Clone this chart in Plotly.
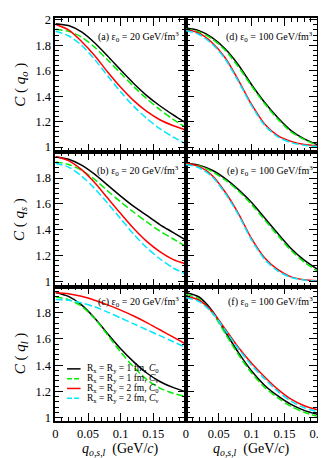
import plotly.graph_objects as go
from plotly.subplots import make_subplots

# momentum grid (GeV/c)
q = [0.0, 0.02, 0.04, 0.06, 0.08, 0.10, 0.12, 0.14, 0.16, 0.18, 0.20]

# (a) C(q_o), eps0 = 20 GeV/fm^3
a_r1_c0 = [1.97, 1.955, 1.905, 1.82, 1.715, 1.605, 1.50, 1.405, 1.325, 1.255, 1.19]
a_r1_cv = [1.925, 1.91, 1.865, 1.785, 1.685, 1.58, 1.475, 1.38, 1.295, 1.22, 1.155]
a_r2_c0 = [1.965, 1.92, 1.83, 1.72, 1.59, 1.47, 1.365, 1.28, 1.215, 1.17, 1.135]
a_r2_cv = [1.91, 1.875, 1.80, 1.69, 1.56, 1.435, 1.32, 1.225, 1.145, 1.08, 1.025]

# (b) C(q_s), eps0 = 20 GeV/fm^3
b_r1_c0 = [1.965, 1.945, 1.90, 1.83, 1.745, 1.66, 1.58, 1.51, 1.44, 1.38, 1.32]
b_r1_cv = [1.925, 1.905, 1.86, 1.79, 1.70, 1.615, 1.535, 1.46, 1.39, 1.33, 1.27]
b_r2_c0 = [1.965, 1.935, 1.865, 1.765, 1.645, 1.525, 1.41, 1.31, 1.23, 1.17, 1.135]
b_r2_cv = [1.915, 1.885, 1.815, 1.72, 1.605, 1.485, 1.365, 1.26, 1.175, 1.105, 1.055]

# (c) C(q_l), eps0 = 20 GeV/fm^3
c_r1_c0 = [1.955, 1.925, 1.86, 1.76, 1.64, 1.525, 1.425, 1.34, 1.275, 1.23, 1.195]
c_r1_cv = [1.92, 1.90, 1.85, 1.755, 1.63, 1.50, 1.385, 1.29, 1.225, 1.185, 1.16]
c_r2_c0 = [1.955, 1.945, 1.925, 1.895, 1.86, 1.82, 1.775, 1.725, 1.67, 1.615, 1.56]
c_r2_cv = [1.90, 1.895, 1.875, 1.845, 1.805, 1.76, 1.715, 1.67, 1.625, 1.58, 1.535]

# (d) C(q_o), eps0 = 100 GeV/fm^3
d_r1_c0 = [1.935, 1.915, 1.86, 1.77, 1.645, 1.49, 1.35, 1.23, 1.13, 1.065, 1.02]
d_r1_cv = [1.925, 1.905, 1.85, 1.76, 1.63, 1.48, 1.34, 1.22, 1.12, 1.06, 1.015]
d_r2_c0 = [1.925, 1.895, 1.82, 1.70, 1.525, 1.335, 1.18, 1.09, 1.045, 1.02, 1.01]
d_r2_cv = [1.915, 1.885, 1.81, 1.69, 1.515, 1.325, 1.17, 1.08, 1.035, 1.015, 1.005]

# (e) C(q_s), eps0 = 100 GeV/fm^3
e_r1_c0 = [1.915, 1.90, 1.86, 1.795, 1.71, 1.61, 1.49, 1.37, 1.255, 1.165, 1.095]
e_r1_cv = [1.91, 1.895, 1.85, 1.785, 1.70, 1.595, 1.475, 1.355, 1.24, 1.15, 1.08]
e_r2_c0 = [1.915, 1.89, 1.82, 1.69, 1.525, 1.33, 1.18, 1.09, 1.035, 1.012, 1.005]
e_r2_cv = [1.905, 1.88, 1.81, 1.68, 1.515, 1.32, 1.17, 1.08, 1.03, 1.01, 1.0]

# (f) C(q_l), eps0 = 100 GeV/fm^3
f_r1_c0 = [1.955, 1.92, 1.815, 1.655, 1.495, 1.355, 1.245, 1.165, 1.10, 1.055, 1.025]
f_r1_cv = [1.94, 1.905, 1.80, 1.64, 1.48, 1.34, 1.23, 1.15, 1.085, 1.04, 1.01]
f_r2_c0 = [1.925, 1.895, 1.81, 1.675, 1.535, 1.415, 1.31, 1.215, 1.14, 1.09, 1.06]
f_r2_cv = [1.915, 1.885, 1.80, 1.665, 1.525, 1.40, 1.295, 1.20, 1.125, 1.075, 1.045]

panel_tags = ["(a)", "(d)", "(b)", "(e)", "(c)", "(f)"]
panel_eps = ["20", "100", "20", "100", "20", "100"]
ysubs = ["o", "s", "l"]
legend_labels = [
    "R<sub>x</sub> = R<sub>y</sub> = 1 fm, <i>C</i><sub>0</sub>",
    "R<sub>x</sub> = R<sub>y</sub> = 1 fm, <i>C</i><sub>v</sub>",
    "R<sub>x</sub> = R<sub>y</sub> = 2 fm, <i>C</i><sub>0</sub>",
    "R<sub>x</sub> = R<sub>y</sub> = 2 fm, <i>C</i><sub>v</sub>",
]

panels = [
    [a_r1_c0, a_r1_cv, a_r2_c0, a_r2_cv],
    [d_r1_c0, d_r1_cv, d_r2_c0, d_r2_cv],
    [b_r1_c0, b_r1_cv, b_r2_c0, b_r2_cv],
    [e_r1_c0, e_r1_cv, e_r2_c0, e_r2_cv],
    [c_r1_c0, c_r1_cv, c_r2_c0, c_r2_cv],
    [f_r1_c0, f_r1_cv, f_r2_c0, f_r2_cv],
]

colors = ["black", "#00ee00", "#ff0000", "#00e8ff"]
dashes = ["solid", "7px,3px", "solid", "7px,3px"]

W, H = 326, 458
FONT = "Liberation Serif, Times New Roman, serif"

# pixel layout of the panel grid
xl = [46, 181, 317]
yt = [5, 142, 279, 416]
yranges = [[0.96, 2.015], [0.96, 2.0], [0.975, 2.0]]

fig = make_subplots(rows=3, cols=2, horizontal_spacing=0, vertical_spacing=0)

for i, series in enumerate(panels):
    r, c = i // 2 + 1, i % 2 + 1
    for k, ys in enumerate(series):
        fig.add_trace(go.Scatter(x=q, y=ys, mode="lines",
                                 line=dict(color=colors[k], width=1.5, dash=dashes[k],
                                           shape="spline", smoothing=0.8),
                                 showlegend=False), row=r, col=c)

for i in range(6):
    r, c = i // 2, i % 2
    n = "" if i == 0 else str(i + 1)
    xticktext = ["0", "0.05", "0.1", "0.15", "0.2" if c == 1 else ""]
    yticktext = ["1", "1.2", "1.4", "1.6", "1.8", "2" if r == 0 else ""]
    fig.layout["xaxis" + n].update(
        domain=[xl[c] / W, xl[c + 1] / W], range=[0, 0.2],
        tickmode="array", tickvals=[0, 0.05, 0.1, 0.15, 0.2], ticktext=xticktext,
        showticklabels=(r == 2), ticks="inside", ticklen=8, tickwidth=1.3,
        minor=dict(dtick=0.01, tick0=0, ticks="inside", ticklen=4, tickwidth=1.2, tickcolor="black"),
        showline=True, linecolor="black", linewidth=1.8, mirror="allticks",
        showgrid=False, zeroline=False, tickcolor="black",
        tickfont=dict(family=FONT, size=12.5, color="black"))
    fig.layout["yaxis" + n].update(
        domain=[1 - yt[r + 1] / H, 1 - yt[r] / H], range=yranges[r],
        tickmode="array", tickvals=[1, 1.2, 1.4, 1.6, 1.8, 2.0], ticktext=yticktext,
        showticklabels=(c == 0), ticks="inside", ticklen=8, tickwidth=1.3,
        minor=dict(dtick=0.04, tick0=1, ticks="inside", ticklen=4, tickwidth=1.2, tickcolor="black"),
        showline=True, linecolor="black", linewidth=1.8, mirror="allticks",
        showgrid=False, zeroline=False, tickcolor="black",
        tickfont=dict(family=FONT, size=12.5, color="black"))

    # panel label
    fig.add_annotation(
        text=panel_tags[i] + " ε<sub>0</sub> = " + panel_eps[i] + " GeV/fm<sup>3</sup>",
        xref="x" + n + " domain", yref="y" + n + " domain",
        x=0.965 if c == 0 else 0.985, y=0.86 if r < 2 else 0.885,
        xanchor="right", yanchor="middle", showarrow=False,
        font=dict(family=FONT, size=10, color="black"))

# y titles
for r in range(3):
    fig.add_annotation(
        text="<i>C</i> ( <i>q</i><sub><i>" + ysubs[r] + "</i></sub> )",
        xref="paper", yref="paper", x=10 / W, y=1 - (yt[r] + yt[r + 1]) / 2 / H,
        textangle=-90, showarrow=False, xanchor="center", yanchor="middle",
        font=dict(family=FONT, size=15, color="black"))

# x titles
for c in range(2):
    fig.add_annotation(
        text="<i>q</i><sub><i>o,s,l</i></sub>  (GeV/<i>c</i>)",
        xref="paper", yref="paper", x=(xl[c] + xl[c + 1]) / 2 / W, y=1 - 445 / H,
        showarrow=False, xanchor="center", yanchor="middle",
        font=dict(family=FONT, size=14, color="black"))

# legend in panel (c)
for k, lab in enumerate(legend_labels):
    yy = 1 - (363 + 10 * k) / H
    fig.add_shape(type="line", xref="paper", yref="paper",
                  x0=58 / W, x1=72 / W, y0=yy, y1=yy,
                  line=dict(color=colors[k], width=1.5, dash=dashes[k].replace("7px,3px", "5px,2px")))
    fig.add_annotation(text=lab, xref="paper", yref="paper", x=77 / W, y=yy,
                       xanchor="left", yanchor="middle", showarrow=False,
                       font=dict(family=FONT, size=9.5, color="black"))

fig.update_layout(width=W, height=H, margin=dict(l=0, r=0, t=0, b=0),
                  plot_bgcolor="white", paper_bgcolor="white", showlegend=False)

fig.write_html("out.html")
